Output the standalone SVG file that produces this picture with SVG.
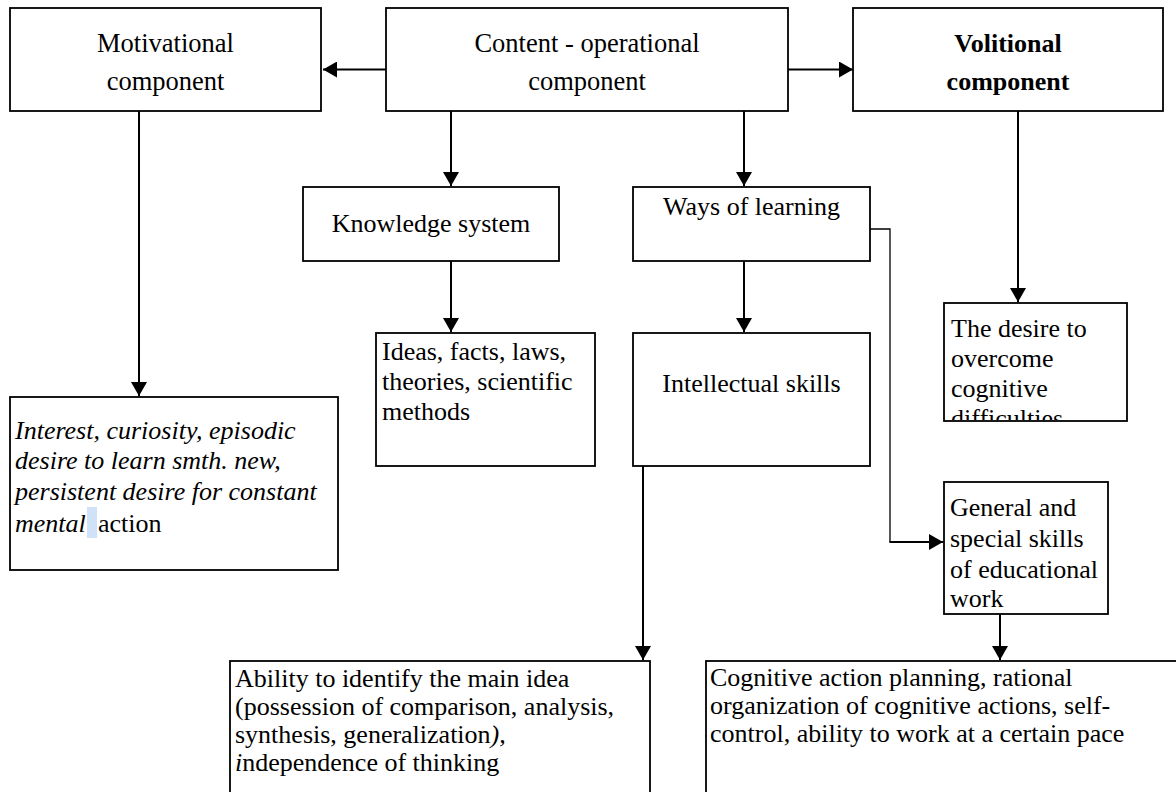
<svg xmlns="http://www.w3.org/2000/svg" width="1176" height="792" viewBox="0 0 1176 792">
<style>
.box{fill:#fff;stroke:#000;stroke-width:1.8}
text{font-family:'Liberation Serif','Times New Roman',Times,serif;font-size:26px;fill:#000}
.big{font-size:26.5px}
.c{text-anchor:middle}
.b{font-weight:bold}
.i{font-style:italic}
.ln{fill:none;stroke:#000;stroke-width:2}
.thin{fill:none;stroke:#000;stroke-width:1.3}
</style>
<defs>
<marker id="ah" markerUnits="userSpaceOnUse" viewBox="0 0 14 16" refX="14" refY="8" markerWidth="14" markerHeight="16" orient="auto">
<path d="M0,0 L14,8 L0,16 Z" fill="#000"/>
</marker>
<clipPath id="clipDesire"><rect x="945" y="304" width="181" height="116"/></clipPath>
</defs>
<rect width="1176" height="792" fill="#fff"/>

<g id="connectors">
<line class="ln" x1="386" y1="69.5" x2="323" y2="69.5" marker-end="url(#ah)"/>
<line class="ln" x1="788" y1="69.5" x2="853" y2="69.5" marker-end="url(#ah)"/>
<line class="ln" x1="451" y1="111" x2="451" y2="186" marker-end="url(#ah)"/>
<line class="ln" x1="744" y1="111" x2="744" y2="186" marker-end="url(#ah)"/>
<line class="ln" x1="1018" y1="111" x2="1018" y2="302" marker-end="url(#ah)"/>
<line class="ln" x1="139" y1="111" x2="139" y2="396" marker-end="url(#ah)"/>
<line class="ln" x1="451" y1="261" x2="451" y2="332" marker-end="url(#ah)"/>
<line class="ln" x1="744" y1="261" x2="744" y2="332" marker-end="url(#ah)"/>
<polyline class="thin" points="870,229 890,229 890,542"/>
<line class="ln" x1="889.4" y1="542" x2="943" y2="542" marker-end="url(#ah)"/>
<line class="ln" x1="643" y1="466" x2="643" y2="660" marker-end="url(#ah)"/>
<line class="ln" x1="1000" y1="614" x2="1000" y2="660" marker-end="url(#ah)"/>
</g>

<g id="motivational">
<rect class="box" x="10" y="8" width="311" height="103"/>
<text class="c big" x="165.5" y="52">Motivational</text>
<text class="c big" x="165.5" y="90">component</text>
</g>

<g id="content">
<rect class="box" x="386" y="8" width="402" height="103"/>
<text class="c big" x="587" y="52">Content - operational</text>
<text class="c big" x="587" y="90">component</text>
</g>

<g id="volitional">
<rect class="box" x="853" y="8" width="310" height="103"/>
<text class="c b" x="1008" y="52">Volitional</text>
<text class="c b" x="1008" y="90">component</text>
</g>

<g id="knowledge">
<rect class="box" x="303" y="187" width="256" height="74"/>
<text class="c" x="431" y="232">Knowledge system</text>
</g>

<g id="ways">
<rect class="box" x="633" y="187" width="237" height="74"/>
<text class="c" x="751.5" y="215">Ways of learning</text>
</g>

<g id="ideas">
<rect class="box" x="376" y="333" width="219" height="133"/>
<text x="382" y="360">Ideas, facts, laws,</text>
<text x="382" y="390">theories, scientific</text>
<text x="382" y="420">methods</text>
</g>

<g id="intellectual">
<rect class="box" x="633" y="333" width="237" height="133"/>
<text class="c" x="751.5" y="392">Intellectual skills</text>
</g>

<g id="desire">
<rect class="box" x="944" y="303" width="183" height="118"/>
<g clip-path="url(#clipDesire)">
<text x="951" y="337">The desire to</text>
<text x="951" y="367">overcome</text>
<text x="951" y="397">cognitive</text>
<text x="951" y="427">difficulties</text>
</g>
</g>

<g id="interest">
<rect class="box" x="10" y="397" width="328" height="173"/>
<rect x="87" y="507" width="10" height="31" fill="#cfe2f8"/>
<text class="i" x="15" y="439">Interest, curiosity, episodic</text>
<text class="i" x="15" y="469">desire to learn smth. new,</text>
<text class="i" x="15" y="500">persistent desire for constant</text>
<text x="15" y="532"><tspan class="i">mental</tspan><tspan x="98">action</tspan></text>
</g>

<g id="general">
<rect class="box" x="944" y="482" width="164" height="132"/>
<text x="950" y="516">General and</text>
<text x="950" y="547">special skills</text>
<text x="950" y="578">of educational</text>
<text x="950" y="607">work</text>
</g>

<g id="ability">
<rect class="box" x="230" y="661" width="420" height="150"/>
<text x="235" y="687">Ability to identify the main idea</text>
<text x="235" y="715">(possession of comparison, analysis,</text>
<text x="235" y="743">synthesis, generalization<tspan class="i">),</tspan></text>
<text x="235" y="771"><tspan class="i">i</tspan>ndependence of thinking</text>
</g>

<g id="cognitive">
<rect class="box" x="706" y="661" width="480" height="150"/>
<text x="710" y="686">Cognitive action planning, rational</text>
<text x="710" y="714">organization of cognitive actions, self-</text>
<text x="710" y="742">control, ability to work at a certain pace</text>
</g>
</svg>
